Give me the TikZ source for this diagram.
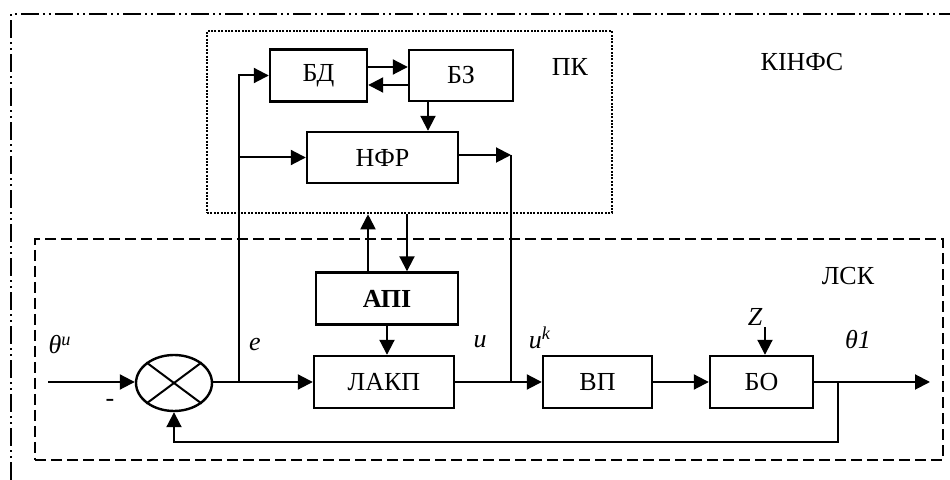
\documentclass[tikz,border=0pt]{standalone}
\usepackage{fontspec}
\setmainfont{Liberation Serif}
\usetikzlibrary{arrows.meta, shapes.geometric}

\tikzset{
  blk/.style={draw, line width=1.2pt, minimum height=26pt, inner sep=0pt},
  arr/.style={line width=1pt, -{Triangle[length=7.5pt,width=7.5pt]}},
  ln/.style={line width=1pt},
  lbl/.style={inner sep=0pt, font=\fontsize{13}{15}\selectfont\itshape},
}

\begin{document}
\begin{tikzpicture}[x=0.5pt, y=-0.5pt, font=\fontsize{13}{15}\selectfont]
  \useasboundingbox (0,0) rectangle (950,480);

  % Frames
  \draw[line width=0.9pt, dash pattern=on 9pt off 2pt on 1pt off 2pt on 1pt off 2pt] (11,480) -- (11,14) -- (950,14);
  \node[draw, line width=1.3pt, dash pattern=on 1pt off 0.7pt, minimum width=202.5pt, minimum height=91pt] (pk) at (409.5,122) {};
  \node[draw, line width=0.9pt, dash pattern=on 5.5pt off 2.5pt, minimum width=454pt, minimum height=110.5pt] (lsk) at (489,349.5) {};
  \node at (570,67) {ПК};
  \node at (802,62) {КІНФС};
  \node at (848,276) {ЛСК};

  % --- Upper part (ПК) ---
  \node[blk, minimum width=48.5pt] (bd) at (318.5,75.5) {БД};
  \node[blk, minimum width=52pt, minimum height=25.5pt] (bz) at (461,75.5) {БЗ};
  \node[blk, minimum width=75.5pt, minimum height=25.5pt] (nfr) at (382.5,157.5) {НФР};

  % --- Lower part (ЛСК) ---
  \node[blk, minimum width=71pt] (api) at (387,298.5) {\textbf{АПІ}};
  \node[blk, minimum width=70pt] (lakp) at (384,382) {ЛАКП};
  \node[blk, minimum width=54.5pt] (vp) at (597.5,382) {ВП};
  \node[blk, minimum width=51.5pt] (bo) at (761.5,382) {БО};
  \node[draw, ellipse, line width=1.2pt, minimum width=38pt, minimum height=28pt, inner sep=0pt] (sum) at (174,383) {};
  \draw[ln] (sum.north west) -- (sum.south east);
  \draw[ln] (sum.north east) -- (sum.south west);

  % Signal labels
  \node[lbl] (thu) at (60,345) {θ\textsuperscript{u}};
  \node[lbl] (el) at (255,345) {e};
  \node[lbl] (ul) at (480,342) {u};
  \node[lbl] (ukl) at (540,338) {u\textsuperscript{k}};
  \node[lbl] (zl) at (755,317) {Z};
  \node[lbl] (th1) at (858,340) {θ1};
  \node[inner sep=0pt] (minus) at (110,403) {-};

  % Points on the lines
  \coordinate (in) at (48,382);
  \coordinate (e) at (239,382);
  \coordinate (uk) at (511,382);
  \coordinate (nfrout) at (511,155);
  \coordinate (fb) at (838,382);
  \coordinate (fbc) at (838,442);
  \coordinate (out) at (930,382);
  \coordinate (zin) at (765,327);

  % Main path
  \draw[arr] (in) -- (in -| sum.west);
  \draw[arr] (sum.east |- e) -- (lakp.west);
  \draw[arr] (lakp.east) -- (vp.west);
  \draw[arr] (vp.east) -- (bo.west);
  \draw[arr] (bo.east) -- (out);
  \draw[arr] (fb) -- (fbc) -| (sum.south);
  \draw[arr] (zin) -- (zin |- bo.north);

  % Branches to ПК
  \draw[arr] (e) |- (bd.west);
  \draw[arr] (e |- nfr.west) -- (nfr.west);
  \draw[arr] ([yshift=4.25pt]bd.east) -- ([yshift=4.25pt]bd.east -| bz.west);
  \draw[arr] ([yshift=-4.75pt]bz.west) -- ([yshift=-4.75pt]bz.west -| bd.east);
  \draw[arr] ([xshift=-16.5pt]bz.south) -- ([xshift=-16.5pt]bz.south |- nfr.north);
  \draw[arr] (nfr.east |- nfrout) -- (nfrout);
  \draw[ln] (nfrout) -- (uk);

  % АПІ links
  \draw[arr] ([xshift=-9.5pt]api.north) -- ([xshift=-9.5pt]api.north |- pk.south);
  \draw[arr] ([xshift=10pt]api.north |- pk.south) -- ([xshift=10pt]api.north);
  \draw[arr] (api.south) -- (api.south |- lakp.north);
\end{tikzpicture}
\end{document}
